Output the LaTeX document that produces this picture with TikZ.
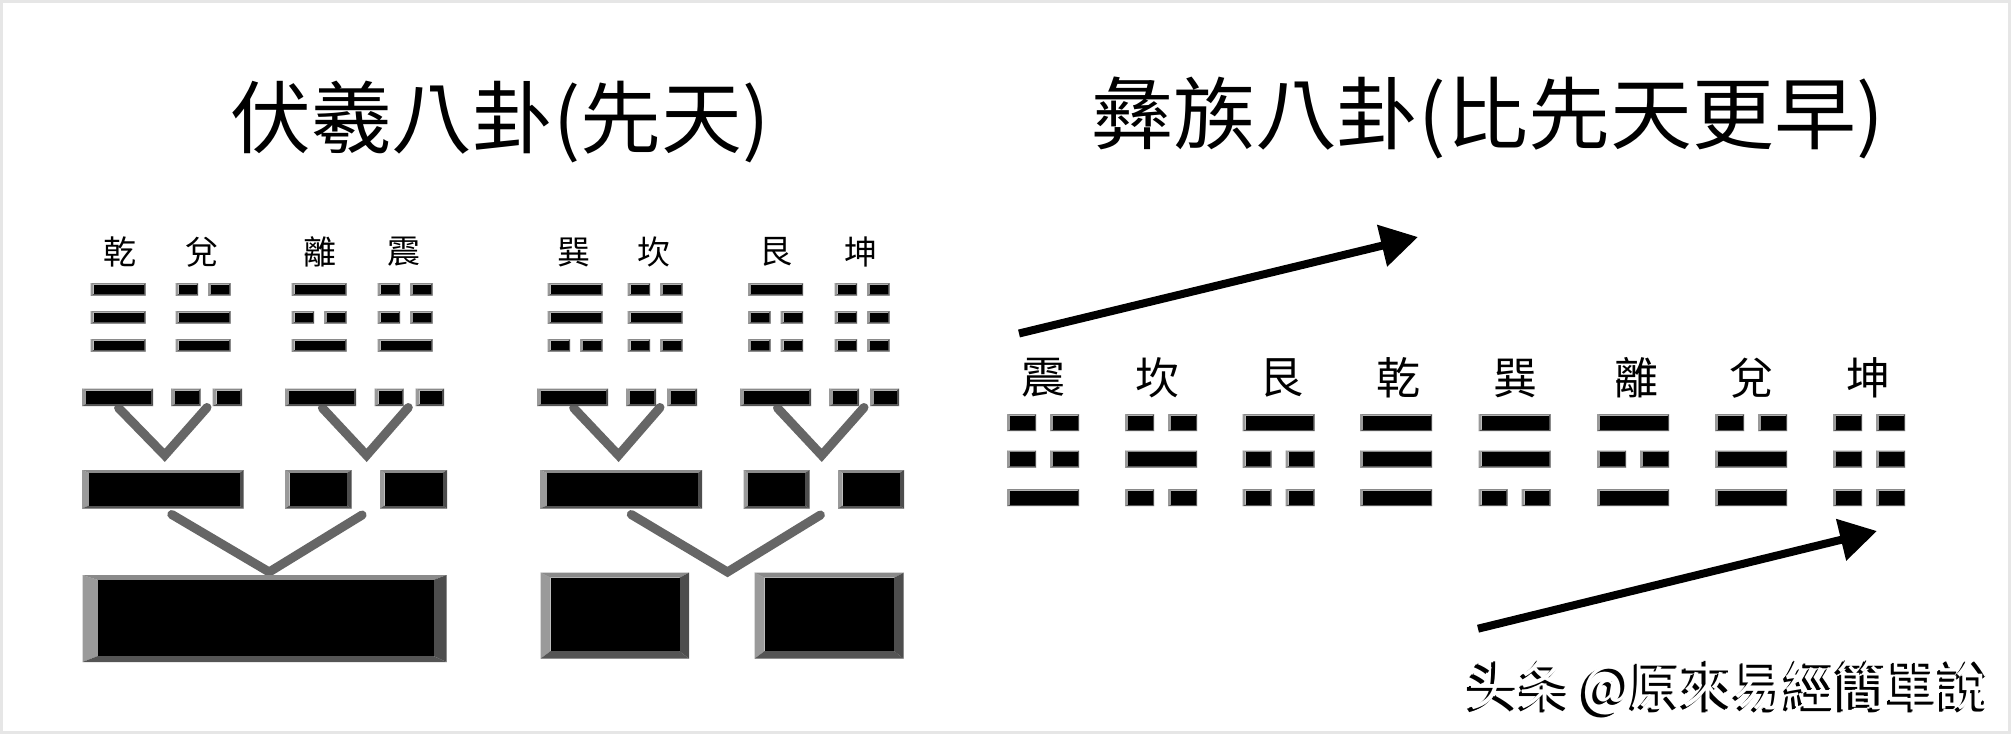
\documentclass[tikz,border=0pt]{standalone}
\usepackage{fontspec}
\usepackage{graphicx}
\setmainfont{Noto Sans CJK TC}
\usetikzlibrary{arrows.meta}
\definecolor{bvL}{HTML}{9A9A9A}
\definecolor{bvT}{HTML}{8A8A8A}
\definecolor{bvR}{HTML}{4D4D4D}
\definecolor{bvB}{HTML}{555555}
\definecolor{conn}{HTML}{666666}
\definecolor{frame}{HTML}{E6E6E6}
\newcommand\fsz[1]{\fontsize{#1}{#1}\selectfont}
% beveled box: x1 y1 x2 y2 left top right bottom
\newcommand\bev[8]{%
  \fill[bvL] (#1,#2) -- (#1+#5,#2+#6) -- (#1+#5,#4-#8) -- (#1,#4) -- cycle;
  \fill[bvT] (#1,#2) -- (#3,#2) -- (#3-#7,#2+#6) -- (#1+#5,#2+#6) -- cycle;
  \fill[bvR] (#3,#2) -- (#3,#4) -- (#3-#7,#4-#8) -- (#3-#7,#2+#6) -- cycle;
  \fill[bvB] (#1,#4) -- (#3,#4) -- (#3-#7,#4-#8) -- (#1+#5,#4-#8) -- cycle;
  \fill[black] (#1+#5,#2+#6) rectangle (#3-#7,#4-#8);}
% yao line: type(1 full / 0 broken), cx, ytop, halfwidth, halfgap, height
\newcommand\yao[6]{%
  \ifnum#1=1
    \bev{#2-#4}{#3}{#2+#4}{#3+#6}{3}{1.5}{1.5}{1.5}%
  \else
    \bev{#2-#4}{#3}{#2-#5}{#3+#6}{3}{1.5}{1.5}{1.5}%
    \bev{#2+#5}{#3}{#2+#4}{#3+#6}{3}{1.5}{1.5}{1.5}%
  \fi}
\newcommand\wmtext{\resizebox{522pt}{\height}{\fsz{55}头条 @原來易經簡單說}}
\tikzset{
  title/.style={inner sep=0pt, font=\fsz{79}},
  lblL/.style={inner sep=0pt, font=\fsz{33}},
  lblR/.style={inner sep=0pt, font=\fsz{44}},
  vconn/.style={draw=conn, line width=9pt, line cap=round, line join=miter},
  bigarrow/.style={draw=black, line width=8pt, -{Triangle[length=37pt,width=41pt]}},
  wmark/.style={inner sep=0pt, anchor=west},
}
\begin{document}
\begin{tikzpicture}[x=1pt,y=-1pt]
\useasboundingbox (0,0) rectangle (2011,734);
\fill[white] (0,0) rectangle (2011,734);
\draw[frame, line width=3pt] (1.5,1.5) rectangle (2009.5,732.5);

% titles
\node[title] (titleL) at (500,122.5) {\scalebox{1.023}[1]{伏羲八卦(先天)}};
\node[title] (titleR) at (1487.5,117.5) {\scalebox{1.037}[1]{彝族八卦(比先天更早)}};

% left labels
\node[lblL] (lQian) at (119.5,252) {乾};
\node[lblL] (lDui)  at (202,252) {兌};
\node[lblL] (lLi)   at (320,252) {離};
\node[lblL] (lZhen) at (404,252) {震};
\node[lblL] (lXun)  at (574,252) {巽};
\node[lblL] (lKan)  at (654,252) {坎};
\node[lblL] (lGen)  at (776,252) {艮};
\node[lblL] (lKun)  at (860.5,252) {坤};

% left trigrams
\foreach \c/\a/\b/\d in {118/1/1/1, 203/0/1/1, 319/1/0/1, 405/0/0/1,
                         575/1/1/0, 655/0/1/0, 775.5/1/0/0, 862/0/0/0}{
  \yao{\a}{\c}{283}{27.5}{5}{12.5}
  \yao{\b}{\c}{311}{27.5}{5}{12.5}
  \yao{\d}{\c}{339}{27.5}{5}{12.5}
}

% V connectors (drawn first)
\draw[vconn] (118.6,408) -- (164.7,455.3) -- (207,407.5);
\draw[vconn] (322.4,408) -- (366.6,455.3) -- (408.3,407.5);
\draw[vconn] (573.7,408) -- (618.5,455.3) -- (660,407.5);
\draw[vconn] (777.5,408) -- (821.7,455.3) -- (864,407.5);
\draw[vconn] (171.8,514.5) -- (269.2,572) -- (362.1,515);
\draw[vconn] (631.3,514.5) -- (727.5,572) -- (820.4,515);

% bigram row
\bev{82}{388.5}{153}{406}{4}{2}{2}{2}
\bev{171}{388.5}{200.5}{406}{4}{2}{2}{2}
\bev{212.5}{388.5}{242}{406}{4}{2}{2}{2}
\bev{285}{388.5}{356}{406}{4}{2}{2}{2}
\bev{374.5}{388.5}{403.5}{406}{4}{2}{2}{2}
\bev{415.5}{388.5}{444}{406}{4}{2}{2}{2}
\bev{537}{388.5}{608}{406}{4}{2}{2}{2}
\bev{626}{388.5}{656}{406}{4}{2}{2}{2}
\bev{667}{388.5}{697}{406}{4}{2}{2}{2}
\bev{740}{388.5}{811}{406}{4}{2}{2}{2}
\bev{829}{388.5}{859}{406}{4}{2}{2}{2}
\bev{870}{388.5}{899}{406}{4}{2}{2}{2}

% single line row
\bev{82}{470}{243.5}{508.5}{7}{3}{4}{3}
\bev{285}{470}{351.5}{508.5}{4.5}{3}{4.5}{3}
\bev{380}{470}{447}{508.5}{4.5}{3}{4.5}{3}
\bev{540}{470}{702}{508.5}{7}{3}{4}{3}
\bev{743.5}{470}{809.5}{508.5}{4.5}{3}{4.5}{3}
\bev{838}{470}{904}{508.5}{4.5}{3}{4.5}{3}

% bottom blocks
\bev{82.5}{575}{446.5}{662}{15.5}{5}{13}{6}
\bev{540.5}{572.7}{689}{658.7}{10}{5}{9.5}{7.5}
\bev{754.5}{572.7}{903.7}{658.7}{10}{5}{9.5}{7.5}

% right labels
\node[lblR] (rZhen) at (1043.3,378) {震};
\node[lblR] (rKan)  at (1157.5,378) {坎};
\node[lblR] (rGen)  at (1281,378) {艮};
\node[lblR] (rQian) at (1398,378) {乾};
\node[lblR] (rXun)  at (1515,378) {巽};
\node[lblR] (rLi)   at (1636.7,378) {離};
\node[lblR] (rDui)  at (1751.7,378) {兌};
\node[lblR] (rKun)  at (1868,378) {坤};

% right trigrams
\foreach \c/\a/\b/\d in {1043/0/0/1, 1161/0/1/0, 1278.5/1/0/0, 1396/1/1/1,
                         1514.5/1/1/0, 1633/1/0/1, 1751/0/1/1, 1869/0/0/0}{
  \yao{\a}{\c}{414}{36}{7}{17}
  \yao{\b}{\c}{450.5}{36}{7}{17}
  \yao{\d}{\c}{489}{36}{7}{17}
}

% arrows
\coordinate (a1s) at (1019,333.5);
\coordinate (a1e) at (1418,237);
\coordinate (a2s) at (1478,628.7);
\coordinate (a2e) at (1877,531);
\draw[bigarrow] (a1s) -- (a1e);
\draw[bigarrow] (a2s) -- (a2e);

% watermark
\node[wmark, text=black] (wmS) at (1464.5,690) {\wmtext};
\node[wmark, text=black] (wmS2) at (1466,689) {\wmtext};
\node[wmark, text=white] (wm) at (1468,687) {\wmtext};
\end{tikzpicture}
\end{document}
